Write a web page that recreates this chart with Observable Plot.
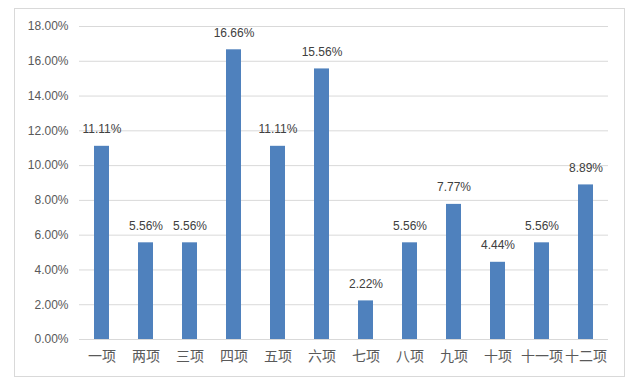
<!DOCTYPE html>
<html>
<head>
<meta charset="utf-8">
<script src="https://cdn.jsdelivr.net/npm/d3@7"></script>
<script src="https://cdn.jsdelivr.net/npm/@observablehq/plot@0.6"></script>
<style>
  html, body { margin: 0; padding: 0; background: #fff; }
  #wrap { position: relative; width: 644px; height: 381px; }
  #border { position: absolute; left: 14px; top: 8px; width: 611px; height: 369px; border: 1px solid #d9d9d9; box-sizing: border-box; pointer-events: none; }
  #chart { position: absolute; left: 0; top: 0; }
</style>
</head>
<body>
<div id="wrap"><div id="border"></div><div id="chart"></div></div>
<script>
const categories = ["一项","两项","三项","四项","五项","六项","七项","八项","九项","十项","十一项","十二项"];
const values = [11.11, 5.56, 5.56, 16.66, 11.11, 15.56, 2.22, 5.56, 7.77, 4.44, 5.56, 8.89];
const yTicks = [0, 2, 4, 6, 8, 10, 12, 14, 16, 18];

const data = categories.map((c, i) => ({cat: c, v: values[i]}));
const font = "'Liberation Sans', 'Noto Sans CJK SC', sans-serif";

const chart = Plot.plot({
  width: 644,
  height: 381,
  marginLeft: 79,
  marginRight: 36,
  marginTop: 26,
  marginBottom: 42,
  style: {fontFamily: font, fontSize: "12px", color: "#595959", background: "transparent"},
  x: {domain: categories, paddingInner: 0.67, paddingOuter: 0.335, label: null, tickSize: 0, tickPadding: 12},
  y: {domain: [0, 18], ticks: yTicks, label: null, tickSize: 0, tickPadding: 11, tickFormat: d => d.toFixed(2) + "%"},
  marks: [
    Plot.gridY(yTicks, {stroke: "#d9d9d9", strokeOpacity: 1, strokeWidth: 1}),
    Plot.barY(data, {x: "cat", y: "v", fill: "#4f81bd"}),
    Plot.text(data, {x: "cat", y: "v", text: d => d.v.toFixed(2) + "%", dy: -17, fill: "#404040", fontSize: 12}),
    Plot.axisX({tickSize: 0, tickPadding: 12, fill: "#595959", fontSize: 14, fontFamily: "'Noto Sans CJK SC', sans-serif"}),
    Plot.axisY({ticks: yTicks, tickSize: 0, tickPadding: 11, tickFormat: d => d.toFixed(2) + "%", fill: "#595959"})
  ]
});
document.getElementById("chart").appendChild(chart);
</script>
</body>
</html>
